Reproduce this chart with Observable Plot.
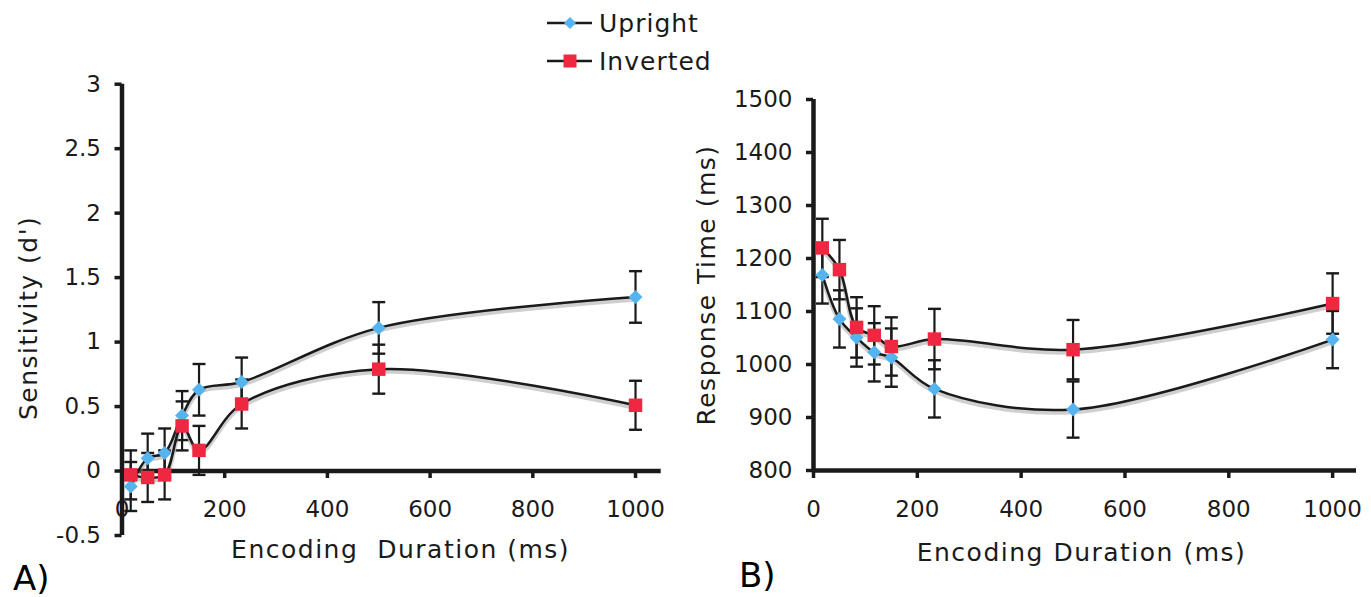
<!DOCTYPE html>
<html><head><meta charset="utf-8">
<script src="https://cdn.jsdelivr.net/npm/d3@7"></script>
<script src="https://cdn.jsdelivr.net/npm/@observablehq/plot@0.6"></script>
<style>
html,body{margin:0;padding:0;background:#fff;}
#root{position:relative;width:1371px;height:597px;overflow:hidden;font-family:"DejaVu Sans",sans-serif;color:#1a1a1a;}
#root > svg, #root > div{position:absolute;top:0;}
svg text{white-space:pre;}
g[aria-label="text"] text{letter-spacing:1.5px;}
</style></head><body><div id="root"></div>
<script>
// ---- data ----
const durations = [17, 50, 83, 117, 150, 233, 500, 1000];
const sensUpright    = [-0.12, 0.10, 0.14, 0.43, 0.63, 0.69, 1.11, 1.35];
const sensUprightErr = [0.19, 0.19, 0.19, 0.19, 0.20, 0.19, 0.20, 0.20];
const sensInverted    = [-0.03, -0.05, -0.03, 0.35, 0.16, 0.52, 0.79, 0.51];
const sensInvertedErr = [0.19, 0.19, 0.19, 0.19, 0.19, 0.19, 0.19, 0.19];
const rtUpright    = [1169, 1086, 1051, 1023, 1013, 954, 915, 1047];
const rtUprightErr = [54, 54, 55, 55, 55, 54, 53, 54];
const rtInverted    = [1220, 1179, 1070, 1055, 1034, 1048, 1028, 1115];
const rtInvertedErr = [55, 56, 57, 55, 55, 57, 56, 57];
const xTicks = [0, 200, 400, 600, 800, 1000];
const sensTicks = [-0.5, 0, 0.5, 1, 1.5, 2, 2.5, 3];
const rtTicks = [800, 900, 1000, 1100, 1200, 1300, 1400, 1500];
const seriesNames = ["Upright", "Inverted"];
const xTitleA = "Encoding  Duration (ms)";
const xTitleB = "Encoding Duration (ms)";
const yTitleA = "Sensitivity (d')";
const yTitleB = "Response Time (ms)";

// ---- styling ----
const BLUE = "#55b4ef", RED = "#ee2841", INK = "#1a1a1a";
const FONT = '"DejaVu Sans", Verdana, sans-serif';

const rows = (ys, es) => durations.map((x, i) => ({x, y: ys[i], lo: ys[i] - es[i], hi: ys[i] + es[i]}));
const capSymbol = {draw(ctx, size) { const w = Math.sqrt(size) / 2; ctx.moveTo(-w, 0); ctx.lineTo(w, 0); }};

function seriesMarks(up, inv) {
  const m = [];
  for (const d of [up, inv]) {
    m.push(Plot.ruleX(d, {x: "x", y1: "lo", y2: "hi", stroke: INK, strokeWidth: 2.2}));
    m.push(Plot.dot(d, {x: "x", y: "lo", symbol: capSymbol, r: 7.3, stroke: INK, strokeWidth: 2.4, fill: "none"}));
    m.push(Plot.dot(d, {x: "x", y: "hi", symbol: capSymbol, r: 7.3, stroke: INK, strokeWidth: 2.4, fill: "none"}));
  }
  for (const d of [up, inv]) {
    m.push(Plot.line(d, {x: "x", y: "y", curve: "catmull-rom", stroke: "#888", strokeOpacity: 0.4, strokeWidth: 4.5, dy: 2.5}));
    m.push(Plot.line(d, {x: "x", y: "y", curve: "catmull-rom", stroke: INK, strokeWidth: 2.5}));
  }
  m.push(Plot.dot(up, {x: "x", y: "y", symbol: "diamond2", r: 6.3, fill: BLUE, stroke: "none"}));
  m.push(Plot.dot(inv, {x: "x", y: "y", symbol: "square", r: 7.6, fill: RED, stroke: "none"}));
  return m;
}

const root = document.getElementById("root");

// ---- Panel A ----
const upA = rows(sensUpright, sensUprightErr), invA = rows(sensInverted, sensInvertedErr);
const plotA = Plot.plot({
  width: 685, height: 597,
  marginLeft: 121.5, marginRight: 24.3, marginTop: 83.7, marginBottom: 62,
  x: {domain: [0, 1050]},
  y: {domain: [-0.5, 3]},
  style: {fontFamily: FONT, fontSize: "23px", color: INK, background: "transparent", overflow: "visible"},
  marks: [
    Plot.axisY({ticks: sensTicks, tickSize: 7, tickPadding: 14, strokeWidth: 3.5, tickFormat: d => String(d), label: null}),
    Plot.axisX({ticks: xTicks, anchor: "bottom", tickSize: 8, strokeWidth: 3.5, dy: -65, fill: "none", label: null}),
    Plot.axisX({ticks: xTicks, anchor: "bottom", tickSize: 0, tickPadding: 0, dy: -35, tickFormat: d => String(d), label: null}),
    Plot.ruleX([0], {strokeWidth: 4.5, stroke: INK}),
    Plot.ruleY([0], {strokeWidth: 4.5, stroke: INK}),
    ...seriesMarks(upA, invA),
    Plot.text([xTitleA], {frameAnchor: "bottom", textAnchor: "middle", dx: 9, dy: 14, fontSize: 25, lineAnchor: "middle", fill: INK}),
    Plot.text([yTitleA], {frameAnchor: "left", textAnchor: "middle", dx: -93, dy: 8, rotate: -90, fontSize: 25, lineAnchor: "middle", fill: INK})
  ]
});
plotA.style.left = "0px";
root.appendChild(plotA);

// ---- Panel B ----
const upB = rows(rtUpright, rtUprightErr), invB = rows(rtInverted, rtInvertedErr);
const plotB = Plot.plot({
  width: 686, height: 597,
  marginLeft: 128, marginRight: 15, marginTop: 99, marginBottom: 127,
  x: {domain: [0, 1046]},
  y: {domain: [800, 1500]},
  style: {fontFamily: FONT, fontSize: "23px", color: INK, background: "transparent", overflow: "visible"},
  marks: [
    Plot.axisY({ticks: rtTicks, tickSize: 7, tickPadding: 14, strokeWidth: 3.5, tickFormat: d => String(d), label: null}),
    Plot.axisX({ticks: xTicks, anchor: "bottom", tickSize: 8, strokeWidth: 3.5, fill: "none", label: null}),
    Plot.axisX({ticks: xTicks, anchor: "bottom", tickSize: 0, tickPadding: 0, dy: 30, tickFormat: d => String(d), label: null}),
    Plot.ruleX([0], {strokeWidth: 4.5, stroke: INK}),
    Plot.ruleY([800], {strokeWidth: 4.5, stroke: INK}),
    ...seriesMarks(upB, invB),
    Plot.text([xTitleB], {frameAnchor: "bottom", textAnchor: "middle", dx: -3.5, dy: 82, fontSize: 25, lineAnchor: "middle", fill: INK}),
    Plot.text([yTitleB], {frameAnchor: "left", textAnchor: "middle", dx: -107, dy: 0, rotate: -90, fontSize: 25, lineAnchor: "middle", fill: INK})
  ]
});
plotB.style.left = "685px";
root.appendChild(plotB);

// ---- legend and panel letters ----
const ns = "http://www.w3.org/2000/svg";
const ov = document.createElementNS(ns, "svg");
ov.setAttribute("width", 1371); ov.setAttribute("height", 597);
ov.style.left = "0px"; ov.style.pointerEvents = "none";
ov.style.fontFamily = FONT;
const legendRows = [
  {name: seriesNames[0], y: 23, color: BLUE, shape: "diamond"},
  {name: seriesNames[1], y: 61, color: RED, shape: "square"}
];
let html = "";
for (const r of legendRows) {
  html += `<line x1="547" x2="592" y1="${r.y}" y2="${r.y}" stroke="${INK}" stroke-width="2.5"/>`;
  if (r.shape === "diamond") html += `<path d="M570,${r.y-6}L576,${r.y}L570,${r.y+6}L564,${r.y}Z" fill="${r.color}"/>`;
  else html += `<rect x="563.5" y="${r.y-6.5}" width="13" height="13" fill="${r.color}"/>`;
  html += `<text x="599" y="${r.y+9}" font-size="25" fill="${INK}" style="letter-spacing:1px">${r.name}</text>`;
}
html += `<text x="13" y="590" font-size="34" fill="#000">A)</text>`;
html += `<text x="739" y="587" font-size="34" fill="#000">B)</text>`;
ov.innerHTML = html;
root.appendChild(ov);
</script></body></html>
